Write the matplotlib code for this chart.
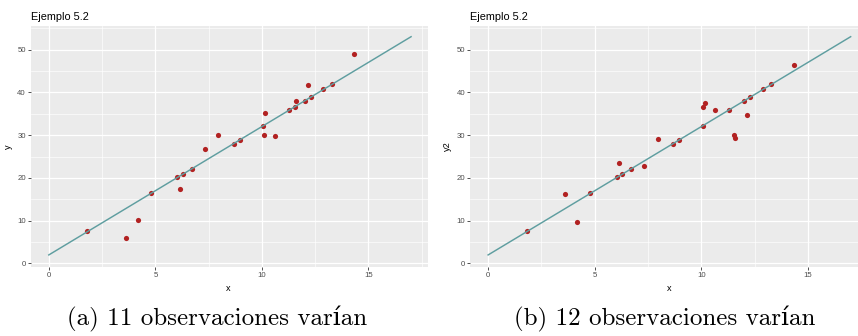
import matplotlib
matplotlib.use("Agg")
import matplotlib.pyplot as plt
import numpy as np
from matplotlib.ticker import MultipleLocator

# ---- data ----
x = [1.81, 3.60, 4.17, 4.80, 6.03, 6.14, 6.28, 6.72, 7.32, 7.95, 8.67, 8.97,
     10.06, 10.08, 10.16, 10.63, 11.29, 11.55, 11.58, 12.02, 12.16, 12.30,
     12.89, 13.27, 14.34]
y = [7.63, 5.92, 10.28, 16.43, 20.17, 17.45, 20.87, 22.12, 26.7, 30.1, 27.96,
     28.97, 32.24, 30.14, 35.12, 29.83, 35.98, 36.68, 37.93, 37.93, 41.74,
     38.94, 40.81, 41.9, 48.99]
y2 = [7.63, 16.2, 9.58, 16.43, 20.17, 23.44, 20.87, 22.12, 22.74, 29.13,
      27.96, 28.97, 32.24, 36.53, 37.46, 35.83, 35.98, 29.98, 29.36, 37.93,
      34.81, 38.94, 40.81, 41.9, 46.42]
line_x = [0, 17]
line_y = [2, 53]
xticks = [0, 5, 10, 15]
yticks = [0, 10, 20, 30, 40, 50]
titles = ["Ejemplo 5.2", "Ejemplo 5.2"]
ylabels = ["y", "y2"]
captions = ["(a) 11 observaciones varían", "(b) 12 observaciones varían"]

W, H = 858, 336
fig = plt.figure(figsize=(W / 100, H / 100), dpi=100)

panels = [
    dict(rect=(30.7, 26, 427.7, 266.7), xlim=(-0.85, 17.78), ys=y, ylab_x=12.7,
         xlab_x=228.7, cap_x=217),
    dict(rect=(470, 26, 857.7, 266.7), xlim=(-0.85, 17.33), ys=y2, ylab_x=451.7,
         xlab_x=669, cap_x=665),
]

sans = ["Liberation Sans", "DejaVu Sans"]
for i, p in enumerate(panels):
    l, t, r, b = p["rect"]
    ax = fig.add_axes([l / W, 1 - b / H, (r - l) / W, (b - t) / H])
    ax.set_facecolor("#EBEBEB")
    for s in ax.spines.values():
        s.set_visible(False)
    ax.set_xlim(*p["xlim"])
    ax.set_ylim(-0.75, 55.5)
    ax.xaxis.set_major_locator(plt.FixedLocator(xticks))
    ax.yaxis.set_major_locator(plt.FixedLocator(yticks))
    ax.xaxis.set_minor_locator(MultipleLocator(2.5))
    ax.yaxis.set_minor_locator(MultipleLocator(5))
    ax.grid(which="major", color="white", linewidth=0.9)
    ax.grid(which="minor", color="white", linewidth=0.45)
    ax.set_axisbelow(True)
    ax.tick_params(which="major", length=2, width=0.6, color="#333333",
                   labelsize=5.6, labelcolor="#4D4D4D", pad=1.5)
    ax.tick_params(which="minor", length=0)
    for lab in ax.get_xticklabels() + ax.get_yticklabels():
        lab.set_family(sans)
    ax.scatter(x, p["ys"], s=14, color="#B22222", zorder=3, linewidths=0)
    ax.plot(line_x, line_y, color="#5F9EA0", linewidth=1.05, zorder=4)
    ax.set_title(titles[i], loc="left", fontsize=7.8, pad=4.5, family=sans,
                 color="black")
    ax.set_xlabel("x", fontsize=6.6, family=sans)
    ax.set_ylabel(ylabels[i], fontsize=6.6, family=sans)
    ax.xaxis.set_label_coords((p["xlab_x"] - l) / (r - l), -(284 - b) / (b - t))
    ax.yaxis.set_label_coords((p["ylab_x"] - l) / (r - l), 0.5)
    fig.text(p["cap_x"] / W, 1 - 325 / H, captions[i], ha="center",
             va="baseline", fontsize=18, family=["cmr10", "DejaVu Serif"])

fig.savefig("out.png", dpi=100)
